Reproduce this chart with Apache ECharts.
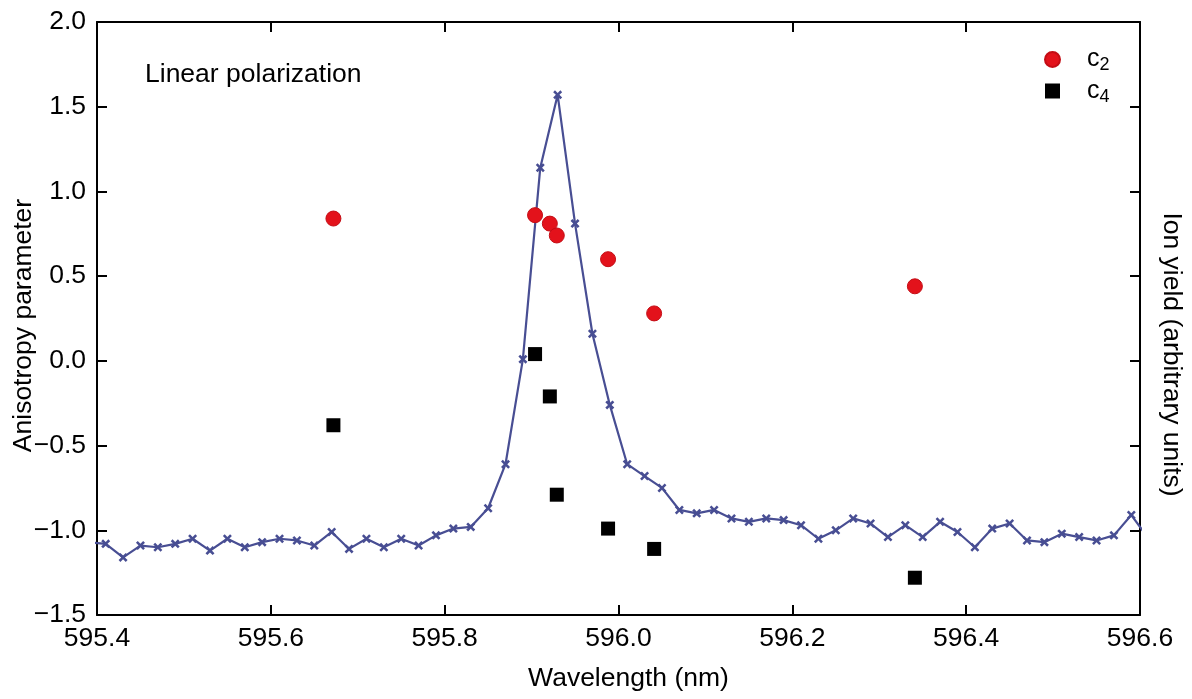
<!DOCTYPE html>
<html>
<head>
<meta charset="utf-8">
<script src="https://cdn.jsdelivr.net/npm/echarts@6/dist/echarts.min.js"></script>
<style>html,body{margin:0;padding:0;background:#fff;}#chart{width:1192px;height:699px;}</style>
</head>
<body>
<div id="chart"></div>
<script>
// Ion yield spectrum (right axis, arbitrary units drawn on the same scale)
var wavelength = [595.39,595.41,595.43,595.45,595.47,595.49,595.51,595.53,595.55,595.57,
  595.59,595.61,595.63,595.65,595.67,595.69,595.71,595.73,595.75,595.77,
  595.79,595.81,595.83,595.85,595.87,595.89,595.91,595.93,595.95,595.97,
  595.99,596.01,596.03,596.05,596.07,596.09,596.11,596.13,596.15,596.17,
  596.19,596.21,596.23,596.25,596.27,596.29,596.31,596.33,596.35,596.37,
  596.39,596.41,596.43,596.45,596.47,596.49,596.51,596.53,596.55,596.57,
  596.59,596.61];
var ionYield = [-1.07,-1.08,-1.16,-1.09,-1.10,-1.08,-1.05,-1.12,-1.05,-1.10,
  -1.07,-1.05,-1.06,-1.09,-1.01,-1.11,-1.05,-1.10,-1.05,-1.09,
  -1.03,-0.99,-0.98,-0.87,-0.61,0.01,1.14,1.57,0.81,0.16,
  -0.26,-0.61,-0.68,-0.75,-0.88,-0.90,-0.88,-0.93,-0.95,-0.93,
  -0.94,-0.97,-1.05,-1.00,-0.93,-0.96,-1.04,-0.97,-1.04,-0.95,
  -1.01,-1.10,-0.99,-0.96,-1.06,-1.07,-1.02,-1.04,-1.06,-1.03,
  -0.91,-1.05];

// Anisotropy parameters
var anisoWavelength = [595.672, 595.904, 595.921, 595.929, 595.988, 596.041, 596.341];
var c2 = [0.84, 0.86, 0.81, 0.74, 0.60, 0.28, 0.44];
var c4 = [-0.38, 0.04, -0.21, -0.79, -0.99, -1.11, -1.28];

var xTicks = {min: 595.4, max: 596.6, interval: 0.2};
var yTicks = {min: -1.5, max: 2.0, interval: 0.5};

var FONT = "'Liberation Sans', Arial, sans-serif";
var FS = 26.5;
function pairs(xs, ys){ return xs.map(function(x,i){ return [x, ys[i]]; }); }
function fmt(v){ return v.toFixed(1).replace('-', '\u2212'); }

var axisLine = {show: true, onZero: false, lineStyle: {color: '#000', width: 2}};
var axisTick = {show: true, inside: true, length: 10, lineStyle: {color: '#000', width: 2}};

var chart = echarts.init(document.getElementById('chart'), null, {renderer: 'canvas'});
chart.setOption({
  animation: false,
  backgroundColor: '#fff',
  grid: {left: 97, right: 52, top: 22, bottom: 84, containLabel: false, outerBoundsMode: 'none'},
  graphic: [{
    type: 'text', left: 145, top: 61,
    style: {text: 'Linear polarization', font: FS + "px " + FONT, fill: '#000'}
  }],
  legend: {
    orient: 'vertical', left: 1039, top: 42,
    itemWidth: 15, itemHeight: 15, itemGap: 4,
    data: [{name: 'c2', icon: 'circle'}, {name: 'c4', icon: 'rect'}],
    formatter: function(name){ return '{c|c}{s|' + name.slice(1) + '}'; },
    textStyle: {
      padding: [0, 0, 0, 22],
      rich: {
        c: {fontFamily: FONT, fontSize: 25, color: '#000', lineHeight: 30, verticalAlign: 'middle'},
        s: {fontFamily: FONT, fontSize: 18, color: '#000', lineHeight: 30, verticalAlign: 'bottom'}
      }
    }
  },
  xAxis: [{
    type: 'value', position: 'bottom',
    min: xTicks.min, max: xTicks.max, interval: xTicks.interval,
    name: 'Wavelength (nm)', nameLocation: 'middle', nameGap: 50, nameMoveOverlap: false,
    nameTextStyle: {fontFamily: FONT, fontSize: FS, color: '#000', padding: [0, 0, 0, 20]},
    axisLine: axisLine, axisTick: axisTick, splitLine: {show: false},
    axisLabel: {fontFamily: FONT, fontSize: FS, color: '#000', margin: 10, formatter: fmt}
  }, {
    type: 'value', position: 'top',
    min: xTicks.min, max: xTicks.max, interval: xTicks.interval,
    axisLine: axisLine, axisTick: axisTick, splitLine: {show: false},
    axisLabel: {show: false}
  }],
  yAxis: [{
    type: 'value', position: 'left',
    min: yTicks.min, max: yTicks.max, interval: yTicks.interval,
    name: 'Anisotropy parameter', nameLocation: 'middle', nameGap: 60, nameMoveOverlap: false,
    nameTextStyle: {fontFamily: FONT, fontSize: FS, color: '#000', padding: [0, 14, 0, 0]},
    axisLine: axisLine, axisTick: axisTick, splitLine: {show: false},
    axisLabel: {fontFamily: FONT, fontSize: FS, color: '#000', margin: 11, formatter: fmt}
  }, {
    type: 'value', position: 'right',
    min: yTicks.min, max: yTicks.max, interval: yTicks.interval,
    name: 'Ion yield (arbitrary units)', nameLocation: 'middle', nameGap: 18, nameRotate: -90,
    nameMoveOverlap: false,
    nameTextStyle: {fontFamily: FONT, fontSize: FS, color: '#000', padding: [0, 0, 0, 72]},
    axisLine: axisLine, axisTick: axisTick, splitLine: {show: false},
    axisLabel: {show: false}
  }],
  series: [{
    name: 'Ion yield', type: 'line', xAxisIndex: 0, yAxisIndex: 1,
    data: pairs(wavelength, ionYield),
    symbol: 'path://M0,2L2,0L5,3L8,0L10,2L7,5L10,8L8,10L5,7L2,10L0,8L3,5Z',
    symbolSize: 9, showAllSymbol: true, clip: true,
    lineStyle: {color: '#484e93', width: 2.2},
    itemStyle: {color: '#484e93'},
    z: 2
  }, {
    name: 'c2', type: 'scatter', xAxisIndex: 0, yAxisIndex: 0,
    data: pairs(anisoWavelength, c2),
    symbol: 'circle', symbolSize: 15,
    itemStyle: {color: '#e3121b', borderColor: '#c40d15', borderWidth: 1, opacity: 1},
    z: 3
  }, {
    name: 'c4', type: 'scatter', xAxisIndex: 0, yAxisIndex: 0,
    data: pairs(anisoWavelength, c4),
    symbol: 'rect', symbolSize: 14,
    itemStyle: {color: '#000', opacity: 1},
    z: 3
  }]
});
</script>
</body>
</html>
